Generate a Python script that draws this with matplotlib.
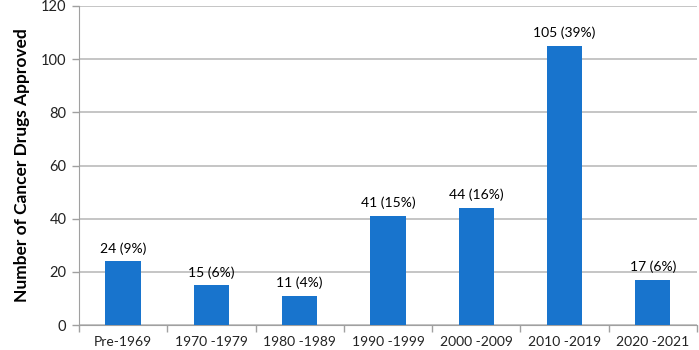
import matplotlib
matplotlib.use("Agg")
import matplotlib.pyplot as plt

categories = ["Pre-1969", "1970 -1979", "1980 -1989", "1990 -1999", "2000 -2009", "2010 -2019", "2020 -2021"]
values = [24, 15, 11, 41, 44, 105, 17]
percents = ["9%", "6%", "4%", "15%", "16%", "39%", "6%"]
yticks = [0, 20, 40, 60, 80, 100, 120]

plt.rcParams['font.family'] = ['Lato', 'DejaVu Sans']

fig = plt.figure(figsize=(6.99, 3.5), dpi=100)
ax = fig.add_axes([0.113, 0.071, 0.884, 0.912])

x = list(range(len(categories)))
ax.bar(x, values, width=0.4, color="#1874CD", zorder=3)
for xi, v, p in zip(x, values, percents):
    ax.text(xi, v + 2.5, f"{v} ({p})", ha="center", va="bottom", fontsize=10, color="#000000")

ax.set_xlim(-0.5, len(categories) - 0.5)
ax.set_ylim(0, 120)
ax.set_yticks(yticks)
ax.set_yticklabels([str(t) for t in yticks], fontsize=10.5, color="#222222")
ax.set_xticks(x)
ax.set_xticklabels(categories, fontsize=10, color="#222222")
ax.set_xticks([i + 0.5 for i in range(-1, len(categories))], minor=True)
ax.tick_params(axis="x", which="major", length=0, pad=8)
ax.tick_params(axis="x", which="minor", length=5, color="#a0a0a0", width=1)
ax.tick_params(axis="y", length=5, color="#a0a0a0", width=1, pad=4)

ax.grid(axis="y", color="#c0c0c0", linewidth=1.3, zorder=0)
for s in ["top", "right"]:
    ax.spines[s].set_visible(False)
ax.spines["left"].set_color("#a0a0a0")
ax.spines["bottom"].set_color("#a0a0a0")

ax.set_ylabel("Number of Cancer Drugs Approved", fontsize=12.5, fontweight="bold", labelpad=8)

fig.savefig("out.png", dpi=100)
